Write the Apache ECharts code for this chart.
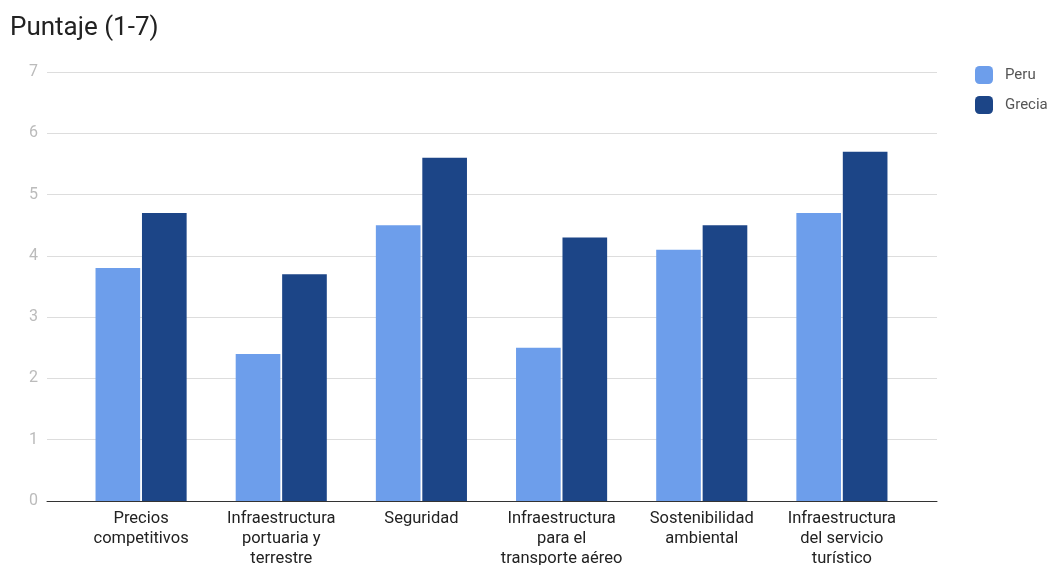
<!DOCTYPE html>
<html>
<head>
<meta charset="utf-8">
<script src="https://cdn.jsdelivr.net/npm/echarts@6/dist/echarts.min.js"></script>
<style>
  html, body { margin: 0; padding: 0; background: #fff; }
  #chart { width: 1051px; height: 565px; }
</style>
</head>
<body>
<div id="chart"></div>
<script>
let categories = [
    'Precios\ncompetitivos',
    'Infraestructura\nportuaria y\nterrestre',
    'Seguridad',
    'Infraestructura\npara el\ntransporte aéreo',
    'Sostenibilidad\nambiental',
    'Infraestructura\ndel servicio\nturístico'
];
let peru = [3.8, 2.4, 4.5, 2.5, 4.1, 4.7];
let grecia = [4.7, 3.7, 5.6, 4.3, 4.5, 5.7];
let yTicks = [0, 1, 2, 3, 4, 5, 6, 7];

let yMin = yTicks[0];
let yMax = yTicks[yTicks.length - 1];

let option = {
    textStyle: { fontFamily: 'Roboto' },
    title: {
        text: 'Puntaje (1-7)',
        left: 5,
        top: 10,
        textStyle: { fontSize: 26, fontWeight: 'normal', color: '#222', fontFamily: 'Roboto' }
    },
    legend: {
        orient: 'vertical',
        left: 970,
        top: 61,
        itemWidth: 18,
        itemHeight: 18,
        itemGap: 12,
        icon: 'roundRect',
        textStyle: { fontSize: 15, color: '#555', fontFamily: 'Roboto', padding: [0, 0, 0, 7] },
        data: ['Peru', 'Grecia']
    },
    // outer grid: y labels, gridlines and baseline
    // inner grid: the bars, a bit inset like the original
    grid: [
        { left: 47, right: 114, top: 72, bottom: 64, outerBoundsMode: 'none' },
        { left: 71, right: 139, top: 72, bottom: 64, outerBoundsMode: 'none' }
    ],
    xAxis: [
        {
            gridIndex: 0,
            type: 'value',
            min: 0,
            max: 1,
            axisLabel: { show: false },
            axisTick: { show: false },
            splitLine: { show: false },
            axisLine: { show: true, onZero: false, lineStyle: { color: '#333', width: 1 } }
        },
        {
            gridIndex: 1,
            type: 'category',
            data: categories,
            axisTick: { show: false },
            axisLine: { show: false },
            axisLabel: { fontSize: 16.5, color: '#222', lineHeight: 20, margin: 8, interval: 0, fontFamily: 'Roboto' }
        }
    ],
    yAxis: [
        {
            gridIndex: 0,
            type: 'value',
            min: yMin,
            max: yMax,
            interval: 1,
            axisLine: { show: false },
            axisTick: { show: false },
            axisLabel: { fontSize: 16, color: '#bbb', margin: 9, fontFamily: 'Roboto' },
            splitLine: { lineStyle: { color: '#ddd' } }
        },
        {
            gridIndex: 1,
            type: 'value',
            min: yMin,
            max: yMax,
            interval: 1,
            axisLine: { show: false },
            axisTick: { show: false },
            axisLabel: { show: false },
            splitLine: { show: false }
        }
    ],
    series: [
        {
            name: 'Peru',
            type: 'bar',
            xAxisIndex: 1,
            yAxisIndex: 1,
            data: peru,
            itemStyle: { color: '#6d9eeb' },
            barGap: '4%',
            barCategoryGap: '35%'
        },
        {
            name: 'Grecia',
            type: 'bar',
            xAxisIndex: 1,
            yAxisIndex: 1,
            data: grecia,
            itemStyle: { color: '#1c4587' }
        }
    ]
};

let chart = echarts.init(document.getElementById('chart'));
chart.setOption(option);
</script>
</body>
</html>
